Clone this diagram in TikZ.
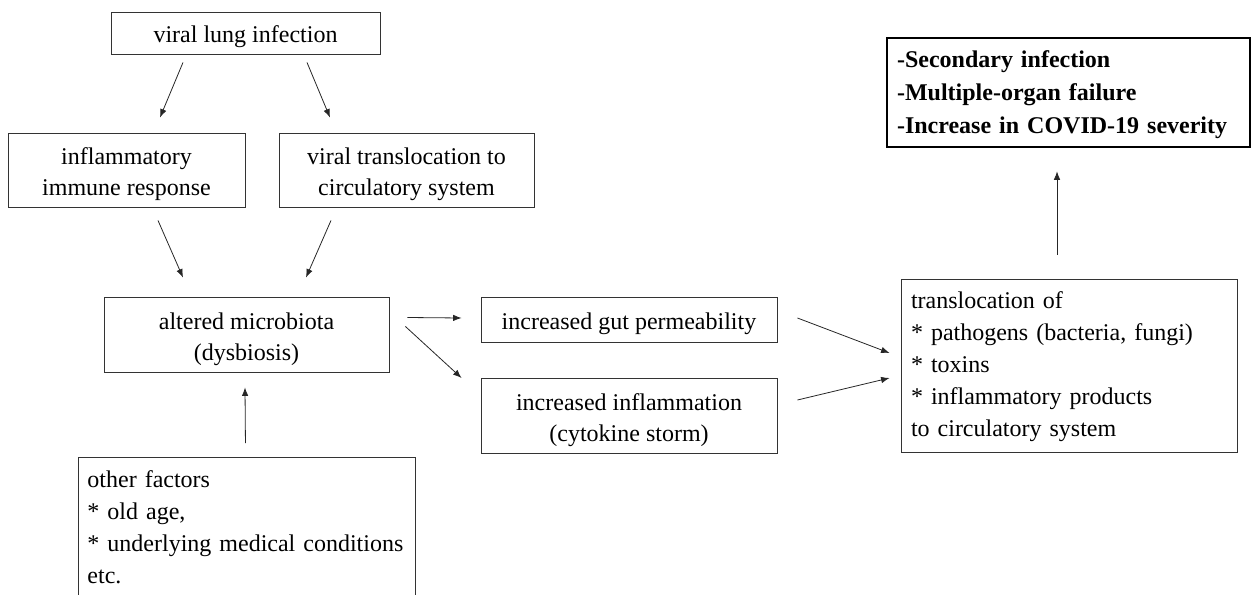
\documentclass[tikz,border=0pt]{standalone}
\usepackage{fontspec}
\setmainfont{Liberation Serif}
\usetikzlibrary{calc,arrows.meta}
\newcommand{\toppad}{\rule{0pt}{25.5pt}}
\begin{document}
\begin{tikzpicture}[x=1pt,y=-1pt,
  box/.style={draw=black!80,line width=0.9pt,inner sep=0pt,align=center,
    font=\fontsize{24}{31}\selectfont},
  lbox/.style={draw=black!80,line width=0.9pt,inner xsep=10pt,inner ysep=0pt,align=left,
    font=\fontsize{24}{32}\selectfont},
  frame/.style={draw=black!80,line width=0.9pt},
  arr/.style={line width=0.8pt,draw=black!85,-{Latex[length=8.5pt,width=6.5pt]}}]
\useasboundingbox (0,0) rectangle (1252,594);
\node[box,minimum width=269pt,minimum height=42pt] (vli) at (245.5,33) {\rule{0pt}{24.5pt}viral lung infection};
\node[box,minimum width=237pt,minimum height=74pt] (iir) at (126.5,170) {\toppad inflammatory\\immune response};
\node[box,minimum width=255pt,minimum height=74pt] (vtc) at (406.5,170) {\toppad viral translocation to\\circulatory system};
\node[box,minimum width=285pt,minimum height=75pt] (am) at (246.5,334.5) {\toppad altered microbiota\\(dysbiosis)};
\node[box,minimum width=296pt,minimum height=45pt] (igp) at (629,319.5) {\rule{0pt}{24.5pt}increased gut permeability};
\node[box,minimum width=296pt,minimum height=75pt] (ii) at (629,415.5) {\toppad increased inflammation\\(cytokine storm)};
\node[lbox,draw=none,anchor=north west,text width=319pt,inner xsep=9pt,inner ysep=13pt] (of) at (78,457)
  {other factors\\{}* old age,\\{}* underlying medical conditions\\etc.};
\draw[frame] ($(of.north west)+(0,160)$) -- (of.north west) -- (of.north east) -- ($(of.north east)+(0,160)$);
\node[lbox,text width=316pt,minimum height=173pt] (to) at (1069,365.5)
  {\rule{0pt}{20pt}translocation of\\{}* pathogens (bacteria, fungi)\\{}* toxins\\{}* inflammatory products\\to circulatory system};
\node[lbox,draw=black,line width=2.6pt,text width=343pt,minimum height=109pt,
  font=\fontsize{24}{33}\selectfont\bfseries] (res) at (1068.5,92.5)
  {\rule{0pt}{21pt}-Secondary infection\\-Multiple-organ failure\\-Increase in COVID-19 severity};
\draw[arr] ($(vli.south)+(-62.5,8)$) -- ($(iir.north)+(33.5,-15)$);
\draw[arr] ($(vli.south)+(61.5,8)$) -- ($(vtc.north)+(-76.5,-15)$);
\draw[arr] ($(iir.south)+(31.5,13)$) -- ($(am.north)+(-63.5,-19)$);
\draw[arr] ($(vtc.south)+(-75.5,13)$) -- ($(am.north)+(59.5,-19)$);
\draw[arr] ($(am.east)+(18,-17)$) -- ($(igp.west)+(-19,-1.5)$);
\draw[arr] ($(am.east)+(16,-8)$) -- ($(ii.west)+(-19,-37.5)$);
\draw[arr] ($(igp.east)+(20,-1.5)$) -- ($(to.west)+(-11,-12.5)$);
\draw[arr] ($(ii.east)+(20,-15.5)$) -- ($(to.west)+(-11,12.5)$);
\draw[arr] ($(to.north)+(-12,-24)$) -- ($(res.south)+(-11.5,23)$);
\draw[arr] ($(of.north)+(-1.5,-14)$) -- ($(am.south)+(-1.5,15)$);
\end{tikzpicture}
\end{document}
